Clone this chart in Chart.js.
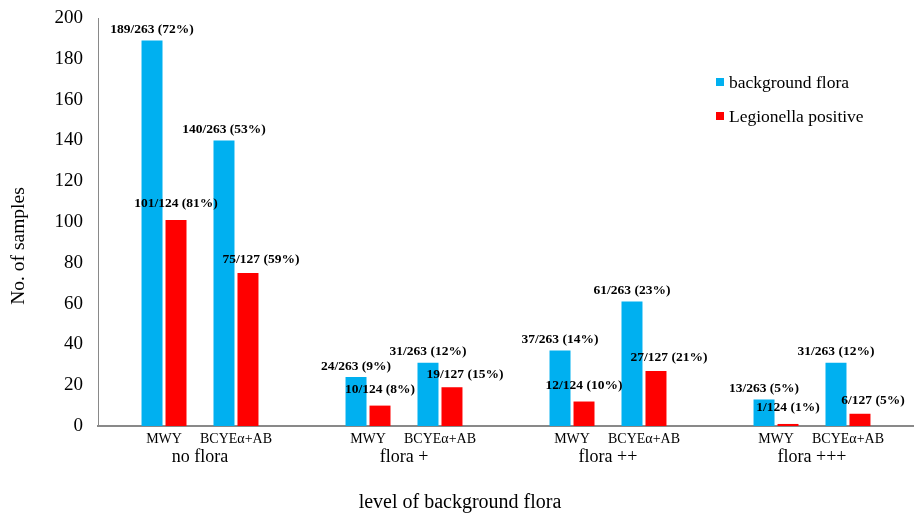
<!DOCTYPE html>
<html>
<head>
<meta charset="utf-8">
<script src="https://cdn.jsdelivr.net/npm/chart.js@4.4.0/dist/chart.umd.min.js"></script>
<style>
  html, body { margin: 0; padding: 0; background: #fff; }
  #wrap { width: 914px; height: 518px; }
</style>
</head>
<body>
<div id="wrap"><canvas id="grafico" width="914" height="518"></canvas></div>
<script>
// valores
const niveis = ['no flora', 'flora +', 'flora ++', 'flora +++'];
const meios = ['MWY', 'BCYEα+AB'];
const floraMWY = [189, 24, 37, 13];
const floraBCYE = [140, 31, 61, 31];
const legioMWY = [101, 10, 12, 1];
const legioBCYE = [75, 19, 27, 6];
const totalFlora = 263;
const totalLegioMWY = 124;
const totalLegioBCYE = 127;
const yMax = 200;
const yPasso = 20;

const azul = '#00B0F0';
const vermelho = '#FF0000';
const cinza = '#898989';
const fonte = "'Liberation Serif', 'Times New Roman', serif";

// rótulos sobre as barras, nomes dos meios, legenda e títulos dos eixos
const textosPlugin = {
    id: 'textos',
    afterDatasetsDraw(chart) {
        const ctx = chart.ctx;
        const area = chart.chartArea;
        ctx.save();
        ctx.fillStyle = '#000';

        // rótulos das barras
        ctx.font = 'bold 13.5px ' + fonte;
        ctx.textAlign = 'center';
        ctx.textBaseline = 'middle';
        chart.data.datasets.forEach((ds, i) => {
            if (!ds.total) return;
            const meta = chart.getDatasetMeta(i);
            meta.data.forEach((bar, j) => {
                const v = ds.data[j];
                const txt = v + '/' + ds.total + ' (' + Math.round(v * 100 / ds.total) + '%)';
                ctx.fillText(txt, bar.x + ds.dx, bar.y - ds.dy);
            });
        });

        // MWY / BCYE debaixo de cada par de barras
        ctx.font = '14px ' + fonte;
        const pares = [[0, 1], [3, 4]];
        pares.forEach((par, m) => {
            const a = chart.getDatasetMeta(par[0]).data;
            const b = chart.getDatasetMeta(par[1]).data;
            a.forEach((bar, j) => {
                ctx.fillText(meios[m], (bar.x + b[j].x) / 2, area.bottom + 13);
            });
        });

        // legenda
        ctx.font = '17.5px ' + fonte;
        ctx.textAlign = 'left';
        const itens = [chart.data.datasets[0], chart.data.datasets[1]];
        itens.forEach((ds, k) => {
            const y = 82 + k * 34;
            ctx.fillStyle = ds.backgroundColor;
            ctx.fillRect(716, y - 4, 8, 8);
            ctx.fillStyle = '#000';
            ctx.fillText(ds.label, 729, y + 1);
        });

        // títulos dos eixos
        ctx.textAlign = 'center';
        ctx.font = '20px ' + fonte;
        ctx.fillText('level of background flora', 460, 503);
        ctx.save();
        ctx.translate(19, 246);
        ctx.rotate(-Math.PI / 2);
        ctx.font = '19.5px ' + fonte;
        ctx.fillText('No. of samples', 0, 0);
        ctx.restore();

        ctx.restore();
    }
};

const ctxGrafico = document.getElementById('grafico').getContext('2d');
const grafico = new Chart(ctxGrafico, {
    type: 'bar',
    data: {
        labels: niveis,
        datasets: [
            { label: 'background flora', data: floraMWY, backgroundColor: azul, total: totalFlora, dx: 0, dy: 11 },
            { label: 'Legionella positive', data: legioMWY, backgroundColor: vermelho, total: totalLegioMWY, dx: 0, dy: 16 },
            { label: '', data: niveis.map(() => null), backgroundColor: 'rgba(0,0,0,0)' },
            { label: 'background flora', data: floraBCYE, backgroundColor: azul, total: totalFlora, dx: 0, dy: 11 },
            { label: 'Legionella positive', data: legioBCYE, backgroundColor: vermelho, total: totalLegioBCYE, dx: 13, dy: 13 }
        ]
    },
    options: {
        responsive: false,
        animation: false,
        devicePixelRatio: 1,
        categoryPercentage: 0.588,
        barPercentage: 0.875,
        layout: { padding: 0 },
        plugins: {
            legend: { display: false },
            tooltip: { enabled: false }
        },
        scales: {
            x: {
                grid: { display: false, drawTicks: false },
                border: { display: true, color: cinza, width: 2 },
                ticks: {
                    color: '#000',
                    font: { family: fonte, size: 18 },
                    padding: 20,
                    autoSkip: false,
                    maxRotation: 0
                },
                afterFit(s) { s.height = 92; }
            },
            y: {
                min: 0,
                max: yMax,
                grid: { display: false, drawTicks: false },
                border: { display: true, color: cinza, width: 1 },
                ticks: {
                    stepSize: yPasso,
                    color: '#000',
                    font: { family: fonte, size: 19 },
                    padding: 15
                },
                afterFit(s) {
                    s.width = 98;
                    s.paddingTop = 18;
                    s.paddingBottom = 0;
                }
            }
        }
    },
    plugins: [textosPlugin]
});
</script>
</body>
</html>
